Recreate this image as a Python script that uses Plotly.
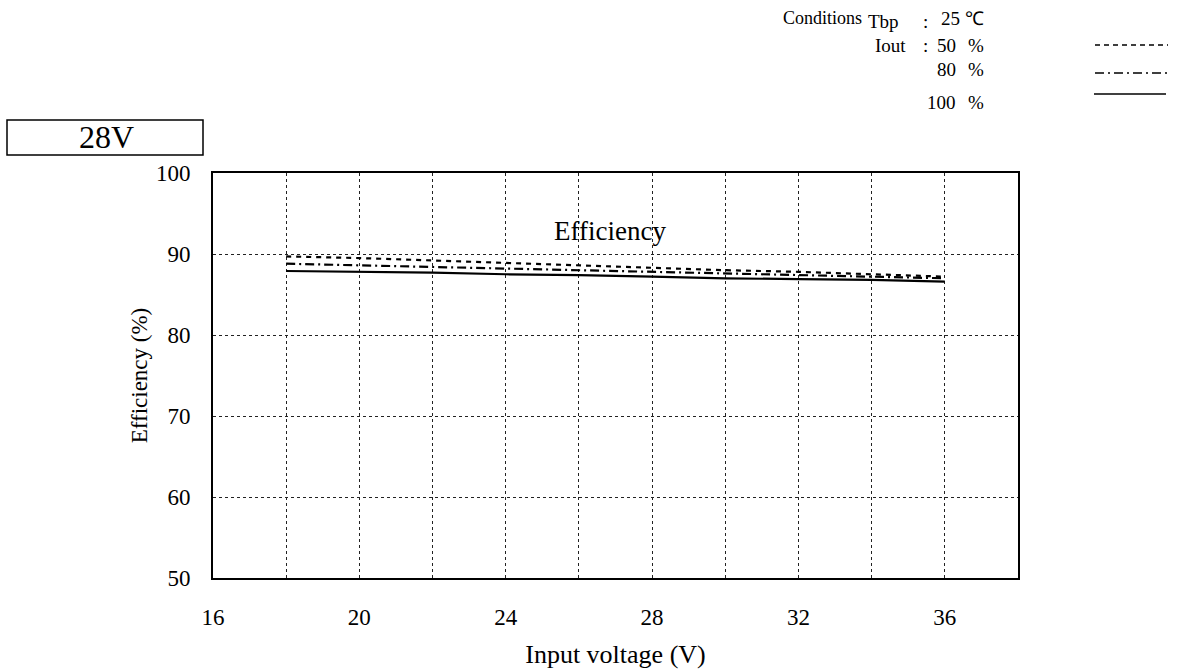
import plotly.graph_objects as go

# Input voltage (V) and measured efficiency (%) at three load levels
vin = [18, 20, 22, 24, 26, 28, 30, 32, 34, 36]
eff_50 = [89.7, 89.5, 89.2, 88.9, 88.6, 88.3, 88.0, 87.8, 87.5, 87.2]
eff_80 = [88.8, 88.6, 88.4, 88.2, 88.0, 87.8, 87.6, 87.4, 87.2, 87.0]
eff_100 = [87.9, 87.8, 87.7, 87.5, 87.4, 87.2, 87.0, 86.9, 86.8, 86.6]

x_tickvals = [16, 18, 20, 22, 24, 26, 28, 30, 32, 34, 36, 38]
x_ticktext = ["16", "", "20", "", "24", "", "28", "", "32", "", "36", ""]
y_tickvals = [50, 60, 70, 80, 90, 100]

FONT = "Liberation Serif, Times New Roman, serif"
W, H = 1177, 669
L, R, T, B = 213, 159, 173, 91
PW, PH = W - L - R, H - T - B


def px(x):
    return (x - L) / PW


def py(y):
    return (H - B - y) / PH


fig = go.Figure()
fig.add_trace(go.Scatter(x=vin, y=eff_50, mode="lines", name="50 %",
                         line=dict(color="black", width=2.2, dash="5px,5px")))
fig.add_trace(go.Scatter(x=vin, y=eff_80, mode="lines", name="80 %",
                         line=dict(color="black", width=2.2, dash="9px,4px,2px,4px")))
fig.add_trace(go.Scatter(x=vin, y=eff_100, mode="lines", name="100 %",
                         line=dict(color="black", width=2.2)))

grid = dict(showgrid=True, gridcolor="#222", gridwidth=1, griddash="dot",
            showline=True, linecolor="black", linewidth=2, mirror=True,
            ticks="", zeroline=False, automargin=False,
            tickfont=dict(family=FONT, size=23, color="black"))

fig.update_xaxes(range=[16, 38], tickvals=x_tickvals, ticktext=x_ticktext,
                 ticklabelstandoff=17,
                 title=dict(text="Input voltage (V)", standoff=26,
                            font=dict(family=FONT, size=26, color="black")),
                 **grid)
fig.update_yaxes(range=[50, 100], tickvals=y_tickvals,
                 ticklabelstandoff=16,
                 title=dict(text="Efficiency (%)", standoff=2,
                            font=dict(family=FONT, size=23, color="black")),
                 **grid)

ann = []
ann.append(dict(x=26.85, y=92.8, xref="x", yref="y", text="Efficiency",
                xanchor="center", yanchor="middle",
                showarrow=False, font=dict(family=FONT, size=27, color="black")))

# Test conditions block
cond = dict(xref="paper", yref="paper", showarrow=False, yanchor="middle",
            font=dict(family=FONT, size=19, color="black"))
ann.append(dict(cond, x=px(864), y=py(18), xanchor="right", text="Conditions",
                font=dict(family=FONT, size=18, color="black")))
ann.append(dict(cond, x=px(866), y=py(22), xanchor="left", text="Tbp"))
ann.append(dict(cond, x=px(873), y=py(45), xanchor="left", text="Iout"))
for yy in (21, 45):
    ann.append(dict(cond, x=px(925), y=py(yy), xanchor="center", text=":"))
ann.append(dict(cond, x=px(939), y=py(18), xanchor="left", text="25 ℃"))
ann.append(dict(cond, x=px(958), y=py(45), xanchor="right", text="50"))
ann.append(dict(cond, x=px(958), y=py(70), xanchor="right", text="80"))
ann.append(dict(cond, x=px(958), y=py(103), xanchor="right", text="100"))
for yy in (45, 70, 103):
    ann.append(dict(cond, x=px(966), y=py(yy), xanchor="left", text="%"))

# Output voltage label
ann.append(dict(xref="paper", yref="paper", x=px(106), y=py(137), showarrow=False,
                xanchor="center", yanchor="middle",
                text="28V", font=dict(family=FONT, size=32, color="black")))

shapes = [
    dict(type="rect", xref="paper", yref="paper", x0=px(7), x1=px(203),
         y0=py(155), y1=py(120), line=dict(color="black", width=1.5)),
    dict(type="line", xref="paper", yref="paper", x0=px(1095), x1=px(1168),
         y0=py(45), y1=py(45), line=dict(color="black", width=1.5, dash="5px,4px")),
    dict(type="line", xref="paper", yref="paper", x0=px(1095), x1=px(1168),
         y0=py(73), y1=py(73), line=dict(color="black", width=1.5, dash="9px,4px,2px,4px")),
    dict(type="line", xref="paper", yref="paper", x0=px(1094), x1=px(1166),
         y0=py(94), y1=py(94), line=dict(color="black", width=1.5)),
]

fig.update_layout(width=W, height=H, margin=dict(l=L, r=R, t=T, b=B),
                  paper_bgcolor="white", plot_bgcolor="white",
                  showlegend=False, annotations=ann, shapes=shapes,
                  font=dict(family=FONT, color="black"))

fig.write_html("out.html")
